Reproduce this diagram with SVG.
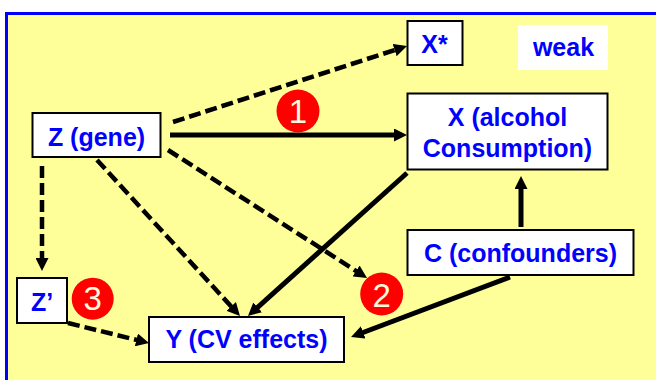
<svg xmlns="http://www.w3.org/2000/svg" width="656" height="380" viewBox="0 0 656 380">
<defs>
<style>
.box{fill:#FFFFFF;stroke:#000000;stroke-width:2}
.lbl{font-family:"Liberation Sans",Arial,sans-serif;font-weight:bold;font-size:25px;fill:#0000FF;text-anchor:middle}
.num{font-family:"Liberation Sans",Arial,sans-serif;font-size:33px;fill:#FFF8DC;text-anchor:middle}
.badge{fill:#FF0000}
.solid{stroke:#000000;stroke-width:5;fill:none;marker-end:url(#ah)}
.dash{stroke:#000000;stroke-width:4.5;fill:none;stroke-dasharray:12 5;marker-end:url(#ah)}
</style>
<marker id="ah" markerUnits="userSpaceOnUse" viewBox="0 0 13 13" markerWidth="13" markerHeight="13" refX="3" refY="6.5" orient="auto">
<path d="M0,0 L13,6.5 L0,13 z" fill="#000000"/>
</marker>
</defs>
<rect x="6.5" y="13.5" width="660" height="380" fill="#FFFF99" stroke="#0000FF" stroke-width="3"/>
<g id="connectors">
<line class="dash" x1="173" y1="122" x2="397.5" y2="49.1"/>
<line class="solid" x1="170" y1="135" x2="397" y2="135"/>
<line class="dash" x1="168" y1="150" x2="358.6" y2="272.6"/>
<line class="dash" x1="97" y1="160" x2="233.2" y2="308.6"/>
<line class="solid" x1="407" y1="173" x2="255.4" y2="309.3"/>
<line class="solid" x1="510" y1="277" x2="360.4" y2="333.5"/>
<line class="solid" x1="521" y1="227" x2="521" y2="186"/>
<line class="dash" x1="42" y1="166" x2="42" y2="261"/>
<line class="dash" x1="68" y1="323" x2="139.3" y2="340.6"/>
</g>
<g id="node-z">
<rect class="box" x="32.5" y="113" width="128" height="44"/>
<text class="lbl" x="96.5" y="146">Z (gene)</text>
</g>
<g id="node-xstar">
<rect class="box" x="407.5" y="21" width="55" height="44"/>
<text class="lbl" x="434.5" y="53">X*</text>
</g>
<g id="node-weak">
<rect x="518" y="25" width="90" height="45" fill="#FFFFFF"/>
<text class="lbl" x="563.5" y="56">weak</text>
</g>
<g id="node-x">
<rect class="box" x="407.5" y="93.5" width="200" height="76"/>
<text class="lbl" x="507.5" y="126">X (alcohol</text>
<text class="lbl" x="507.5" y="157">Consumption)</text>
</g>
<g id="node-c">
<rect class="box" x="407.5" y="230" width="226" height="45"/>
<text class="lbl" x="520.5" y="262">C (confounders)</text>
</g>
<g id="node-zprime">
<rect class="box" x="17" y="278" width="50" height="45"/>
<text class="lbl" x="42" y="311">Z’</text>
</g>
<g id="node-y">
<rect class="box" x="149" y="317" width="195" height="45"/>
<text class="lbl" x="246.5" y="348">Y (CV effects)</text>
</g>
<g id="badge-1">
<circle class="badge" cx="298" cy="111" r="21.5"/>
<text class="num" x="298" y="123">1</text>
</g>
<g id="badge-2">
<circle class="badge" cx="381.7" cy="294" r="21.5"/>
<text class="num" x="381.7" y="306.5">2</text>
</g>
<g id="badge-3">
<circle class="badge" cx="92.7" cy="298.7" r="21"/>
<text class="num" x="92.7" y="309.5">3</text>
</g>
</svg>
